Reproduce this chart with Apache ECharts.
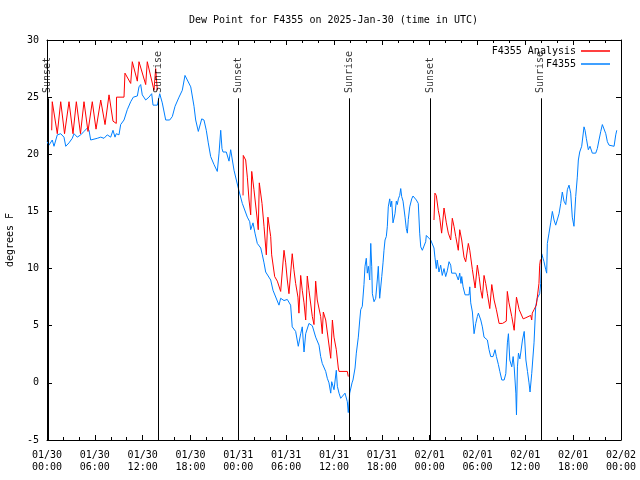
<!DOCTYPE html>
<html>
<head>
<meta charset="utf-8">
<script src="https://cdn.jsdelivr.net/npm/echarts@6/dist/echarts.min.js"></script>
<style>html,body{margin:0;padding:0;background:#fff}#c{width:640px;height:480px}</style>
</head>
<body>
<div id="c"></div>
<script>
// Hours since 2025-01-30 00:00 UTC
const blueHours = [0,0.25,0.66,0.88,1.29,1.72,2.13,2.35,2.76,3.17,3.39,3.8,4.23,4.64,5.06,5.27,5.48,5.68,6.31,6.74,7.15,7.56,7.78,7.99,8.28,8.53,8.69,9.03,9.24,9.66,10.07,10.5,10.83,11.33,11.54,11.75,11.95,12.38,12.79,13.13,13.3,13.84,14.14,14.46,14.89,15.39,15.72,16.06,16.56,16.97,17.31,17.6,18.03,18.44,18.65,18.98,19.15,19.41,19.69,19.98,20.23,20.53,20.95,21.36,21.58,21.79,21.95,22.08,22.49,22.83,23.04,23.46,23.75,24.08,24.5,24.71,25.13,25.43,25.55,25.84,26.09,26.38,26.81,27.01,27.22,27.43,27.63,28.06,28.35,29.1,29.31,29.73,30.14,30.56,30.76,31.19,31.52,31.82,32.02,32.24,32.45,32.86,33.28,33.7,34.12,34.33,34.53,34.96,35.16,35.37,35.59,35.71,36.0,36.29,36.42,36.63,36.84,37.04,37.38,37.67,37.79,37.97,38.26,38.38,38.64,38.8,39.05,39.23,39.35,39.55,39.76,39.89,40.05,40.18,40.31,40.48,40.61,40.73,40.81,41.02,41.23,41.43,41.56,41.73,41.99,42.15,42.27,42.4,42.56,42.69,42.81,42.99,43.11,43.24,43.4,43.53,43.65,43.82,43.94,44.07,44.24,44.37,44.49,44.66,44.91,45.07,45.2,45.32,45.5,45.75,45.91,46.16,46.33,46.57,46.75,46.88,47.08,47.29,47.5,47.58,47.83,48.13,48.33,48.54,48.66,48.83,48.95,49.17,49.38,49.58,49.8,50.01,50.21,50.43,50.64,50.76,51.27,51.43,51.59,51.77,51.93,52.02,52.19,52.44,52.94,53.03,53.15,53.36,53.57,53.78,53.98,54.11,54.41,54.61,54.82,55.24,55.45,55.66,55.95,56.2,56.37,56.62,56.8,57.05,57.34,57.55,57.75,57.88,58.05,58.3,58.47,58.6,58.81,58.89,59.01,59.14,59.31,59.44,59.64,59.86,60.07,60.27,60.46,60.59,60.8,61.09,61.3,61.5,61.8,61.93,62.05,62.22,62.34,62.56,62.68,62.76,62.97,63.18,63.39,63.6,63.81,64.01,64.23,64.44,64.64,64.85,65.07,65.27,65.48,65.69,65.89,66.1,66.32,66.52,66.65,66.82,67.07,67.36,67.49,67.65,67.9,68.11,68.4,68.83,69.03,69.24,69.46,69.66,69.87,70.09,70.29,70.5,71.13,71.34,71.47];
const blueDew = [21.1,20.8,21.25,20.7,21.7,21.8,21.5,20.7,21.0,21.4,21.8,21.5,21.7,22.0,22.3,22.1,21.25,21.4,21.4,21.5,21.4,21.7,21.8,21.5,22.1,21.5,21.8,21.7,22.6,23.0,23.9,24.6,25.0,25.1,25.9,26.1,25.2,24.75,25.0,25.3,24.3,24.3,25.3,24.5,23.0,23.0,23.3,24.2,25.0,25.6,26.9,26.5,25.9,24.2,23.0,22.0,22.1,23.1,23.0,22.1,21.0,19.8,19.1,18.5,20.1,22.1,20.5,20.2,20.2,19.4,20.4,18.6,17.75,16.8,15.7,15.3,14.5,14.1,13.4,14.0,13.1,12.2,11.8,11.2,10.5,9.7,9.6,9.0,8.1,6.8,7.4,7.2,7.3,6.8,4.9,4.5,3.2,4.3,4.9,2.7,4.3,5.2,5.0,4.0,3.3,2.3,1.7,1.0,0.4,0.0,-0.9,0.1,-0.6,1.1,-0.3,-0.9,-1.35,-1.5,-0.9,-1.65,-2.6,-0.9,0.0,0.25,1.3,2.6,4.0,5.5,6.4,6.7,8.6,10.2,10.9,9.6,10.2,9.0,12.2,10.2,7.8,7.1,7.4,9.0,10.2,7.4,9.3,10.5,11.6,12.5,12.8,13.7,15.4,16.1,15.4,15.9,14.0,14.0,14.8,15.9,15.6,16.1,16.4,17.0,16.3,15.9,14.5,13.5,13.1,14.3,15.4,16.1,16.35,16.35,16.0,15.7,13.1,11.9,11.6,11.6,12.35,12.9,12.8,12.5,12.5,11.8,11.0,10.0,10.75,9.7,10.3,9.4,10.0,9.3,9.8,10.6,10.3,9.6,9.6,9.5,9.0,9.6,8.7,9.3,8.4,7.7,7.7,8.4,7.0,6.2,4.3,5.2,5.8,6.1,5.5,4.9,4.0,3.75,2.9,2.3,2.3,2.9,2.3,1.6,1.0,0.25,0.25,0.8,3.5,4.3,2.0,1.4,2.3,1.4,-0.9,-2.8,1.4,2.6,2.1,2.7,3.75,4.5,2.0,1.0,0.0,-0.8,0.8,3.5,6.7,7.4,7.8,8.7,11.3,10.9,10.6,9.9,9.6,12.2,13.1,14.0,15.0,14.25,13.8,13.9,14.8,15.7,16.7,15.9,15.6,16.9,17.3,16.6,14.5,13.7,16.3,18.0,19.5,20.2,20.7,22.4,22.1,21.4,20.4,20.7,20.1,20.1,20.5,21.25,22.0,22.6,22.6,21.8,21.1,20.8,20.7,21.7,22.1];

// Analysis series (null = no analysis, daytime gap)
const redHours = [0.59,0.66,1.29,1.72,2.2,2.76,3.26,3.68,4.2,4.64,5.14,5.68,6.15,6.74,7.28,7.78,8.28,8.69,8.72,9.66,9.78,10.5,10.7,11.33,11.54,12.38,12.58,13.42,13.63,13.84,
  19.0,
  24.59,24.62,24.92,25.13,25.34,25.55,25.68,25.96,26.38,26.5,26.63,26.97,27.22,27.51,27.71,28.06,28.18,28.56,28.89,29.31,29.73,29.94,30.14,30.35,30.76,30.97,31.19,31.48,31.6,31.82,32.02,32.24,32.45,32.65,32.86,33.28,33.49,33.7,33.9,34.33,34.53,34.66,34.96,35.59,35.8,36.0,36.29,36.54,36.63,37.67,37.79,
  43.0,
  48.54,48.66,48.83,49.08,49.25,49.5,49.8,50.09,50.34,50.64,50.84,51.05,51.27,51.59,51.77,52.02,52.31,52.52,52.85,53.03,53.36,53.7,53.98,54.2,54.41,54.61,54.82,55.03,55.24,55.54,55.79,56.08,56.37,56.71,57.13,57.61,57.74,57.95,58.3,58.6,58.73,58.89,59.23,59.44,59.73,60.07,60.67,60.8,60.87,61.09,61.38,61.71,61.8,61.9];
const redDew = [22.1,24.6,21.8,24.6,21.8,24.6,21.8,24.6,21.8,24.6,22.0,24.6,22.2,24.75,22.6,25.2,22.9,22.7,25.0,25.0,27.1,26.2,28.1,26.4,28.1,26.1,28.1,25.6,27.5,25.6,
  null,
  16.4,19.9,19.5,18.0,16.0,14.7,18.5,16.9,14.25,13.4,17.5,15.7,13.7,11.2,14.5,12.8,11.2,9.3,8.9,8.0,11.6,10.5,9.0,7.8,11.3,9.9,8.7,7.5,6.1,9.4,8.1,7.0,5.5,9.35,8.1,5.8,5.1,8.9,7.25,5.8,4.3,6.2,5.5,2.15,5.5,4.0,2.9,1.3,1.0,1.0,0.55,
  null,
  14.25,16.6,16.4,15.1,14.5,13.1,15.3,14.0,13.1,12.5,14.4,13.7,12.8,11.6,13.4,12.5,11.0,10.6,12.2,11.6,9.9,8.3,10.3,9.3,8.1,7.4,9.4,8.7,7.8,6.5,8.6,7.25,6.4,5.2,5.2,5.4,8.0,7.0,5.8,4.6,4.6,7.5,6.4,6.3,5.6,5.7,5.9,5.5,6.1,6.4,6.8,8.7,10.3,10.8];

const sunHours = [0.1, 13.96, 24.03, 37.97, 48.05, 61.95];
const sunNames = ['Sunset', 'Sunrise', 'Sunset', 'Sunrise', 'Sunset', 'Sunrise'];

const titleText = 'Dew Point for F4355 on 2025-Jan-30 (time in UTC)';
const seriesNames = ['F4355 Analysis', 'F4355'];
const yName = 'degrees F';

const BASE = Date.UTC(2025, 0, 30);
const HOUR = 3600000;
const toT = h => BASE + h * HOUR;
const pad = n => (n < 10 ? '0' : '') + n;
const FONT = 'DejaVu Sans Mono';

const blueData = blueHours.map((h, i) => [toT(h), blueDew[i]]);
const redData = redHours.map((h, i) => [toT(h), redDew[i] === null ? '-' : redDew[i]]);
const sunLabelData = sunHours.map((h, i) => ({ value: [toT(h), 25.35], name: sunNames[i] }));
const sunLineData = sunHours.map(h => [{ coord: [toT(h), -5] }, { coord: [toT(h), 24.9] }]);

const xBase = {
  type: 'value', min: BASE, max: BASE + 72 * HOUR, interval: 6 * HOUR,
  axisLine: { show: true, onZero: false, lineStyle: { color: '#000', width: 1 } },
  axisTick: { show: true, inside: true, length: 5, lineStyle: { color: '#000' } },
  minorTick: { show: true, splitNumber: 3, length: 3, lineStyle: { color: '#000' } },
  splitLine: { show: false }, minorSplitLine: { show: false }
};
const yBase = {
  type: 'value', min: -5, max: 30, interval: 5,
  axisLine: { show: true, onZero: false, lineStyle: { color: '#000', width: 1 } },
  axisTick: { show: true, inside: true, length: 5, lineStyle: { color: '#000' } },
  splitLine: { show: false }
};

const chart = echarts.init(document.getElementById('c'), null, { renderer: 'canvas' });
chart.setOption({
  animation: false,
  backgroundColor: '#fff',
  title: {
    text: titleText, left: 184, top: 10,
    textStyle: { fontFamily: FONT, fontSize: 10, fontWeight: 'normal', color: '#000' }
  },
  grid: { left: 47, top: 40, width: 574, height: 400, containLabel: false, outerBoundsMode: 'none' },
  legend: {
    orient: 'vertical', right: 30, top: 46, align: 'right', padding: 0,
    itemWidth: 29, itemHeight: 1.5, itemGap: 3, icon: 'rect',
    textStyle: { fontFamily: FONT, fontSize: 10, color: '#000' },
    data: seriesNames
  },
  xAxis: [
    Object.assign({}, xBase, {
      position: 'bottom',
      axisLabel: {
        show: true, margin: 9, color: '#000', fontFamily: FONT, fontSize: 10, lineHeight: 12,
        formatter: v => {
          const d = new Date(v);
          return pad(d.getUTCMonth() + 1) + '/' + pad(d.getUTCDate()) + '\n' +
                 pad(d.getUTCHours()) + ':' + pad(d.getUTCMinutes());
        }
      }
    }),
    Object.assign({}, xBase, { position: 'top', axisLabel: { show: false } })
  ],
  yAxis: [
    Object.assign({}, yBase, {
      position: 'left', name: yName, nameLocation: 'middle', nameGap: 32, nameRotate: 90,
      nameTextStyle: { fontFamily: FONT, fontSize: 10, color: '#000' },
      axisLabel: { show: true, margin: 8, color: '#000', fontFamily: FONT, fontSize: 10 }
    }),
    Object.assign({}, yBase, { position: 'right', axisLabel: { show: false } })
  ],
  series: [
    {
      name: seriesNames[0], type: 'line', data: redData, showSymbol: false, symbol: 'none',
      connectNulls: false, xAxisIndex: 0, yAxisIndex: 0,
      itemStyle: { color: '#ff0000' }, lineStyle: { color: '#ff0000', width: 1 }, z: 3
    },
    {
      name: seriesNames[1], type: 'line', data: blueData, showSymbol: false, symbol: 'none',
      xAxisIndex: 0, yAxisIndex: 0,
      itemStyle: { color: '#0080ff' }, lineStyle: { color: '#0080ff', width: 1 }, z: 2
    },
    {
      name: 'sun', type: 'scatter', data: sunLabelData, xAxisIndex: 0, yAxisIndex: 0,
      symbolSize: 0.1, itemStyle: { color: 'rgba(0,0,0,0)' }, silent: true, z: 4,
      label: {
        show: true, position: [0, 0], rotate: 90, align: 'left', verticalAlign: 'middle',
        formatter: p => p.name, fontFamily: FONT, fontSize: 10, color: '#000'
      },
      markLine: {
        silent: true, symbol: ['none', 'none'], animation: false,
        lineStyle: { color: '#000', width: 1, type: 'solid' },
        label: { show: false }, emphasis: { disabled: true },
        data: sunLineData
      }
    }
  ]
});
</script>
</body>
</html>
